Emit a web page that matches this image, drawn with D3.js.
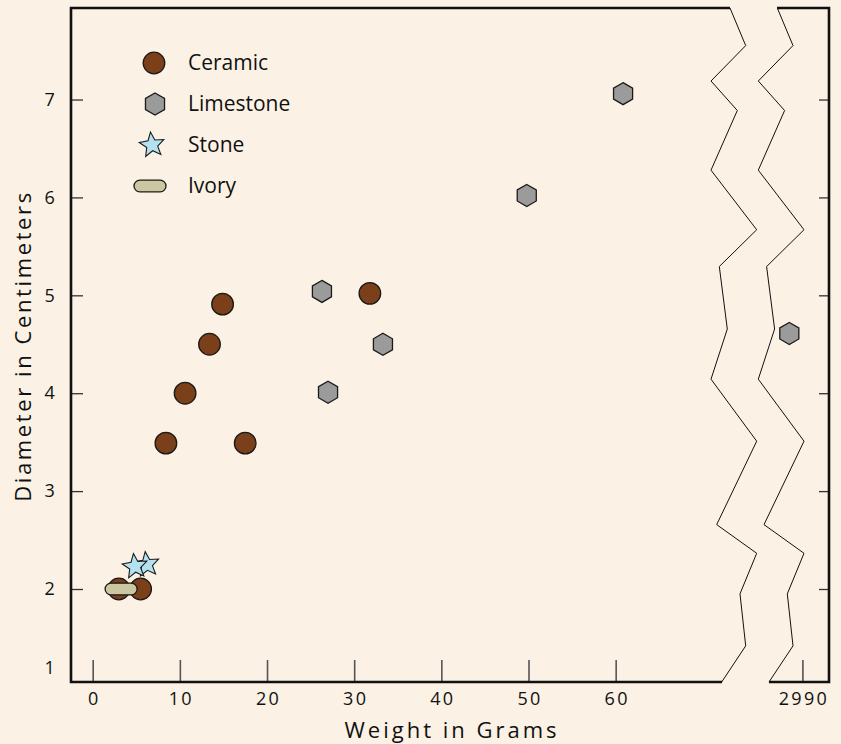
<!DOCTYPE html>
<html>
<head>
<meta charset="utf-8">
<script src="https://cdn.jsdelivr.net/npm/d3@7"></script>
<style>
  html, body { margin: 0; padding: 0; background: #FBF1E4; }
  svg { display: block; }
  text { font-family: "Open Sans", "Noto Sans", sans-serif; fill: #111; }
</style>
</head>
<body>
<svg id="chart" width="841" height="744"></svg>
<script>
// ---- data ----
const ceramicX   = [3, 5.5, 8.4, 10.6, 13.4, 14.9, 17.5, 31.8];
const ceramicY   = [2.0, 2.0, 3.49, 4.0, 4.5, 4.91, 3.49, 5.02];
const limestoneX = [26.3, 27.0, 33.3, 49.8, 60.85, 2988.5];
const limestoneY = [5.04, 4.01, 4.5, 6.02, 7.06, 4.61];
const stoneX     = [6.2, 4.85];
const stoneY     = [2.25, 2.23];
const ivoryX     = [3.26];
const ivoryY     = [2.0];
const xTicks       = [0, 10, 20, 30, 40, 50, 60];
const xTicksBroken = [2990];
const yTicks       = [2, 3, 4, 5, 6, 7];
const yExtraLabel  = ["1"];
const legendNames  = ["Ceramic", "Limestone", "Stone", "Ivory"];

// ---- layout ----
const L = 71, R = 829, T = 8, B = 682;
const svg = d3.select("#chart");
const x1 = d3.scaleLinear().domain([-2.49, 72.2]).range([L, 722]);
const x2 = d3.scaleLinear().domain([2986.17, 2993.05]).range([769, R]);
const xp = v => (v > 1000 ? x2(v) : x1(v));
const y = d3.scaleLinear().domain([1.05, 7.935]).range([B, T]);

const colors = { ceramic: "#7B3F1A", limestone: "#9B9B9B", stone: "#B4E1EF", ivory: "#CBC7A1" };
const strokeC = "#1a1a1a";
const fmt = d3.format("d");

// ---- axes (inward ticks) ----
const gx1 = svg.append("g").attr("transform", `translate(0,${B})`)
  .call(d3.axisBottom(x1).tickValues(xTicks).tickFormat(fmt).tickSize(-22).tickPadding(10));
const gx2 = svg.append("g").attr("transform", `translate(0,${B})`)
  .call(d3.axisBottom(x2).tickValues(xTicksBroken).tickFormat(fmt).tickSize(-22).tickPadding(10));
const gyL = svg.append("g").attr("transform", `translate(${L},0)`)
  .call(d3.axisLeft(y).tickValues(yTicks).tickFormat(fmt).tickSize(-12).tickPadding(14));
const gyR = svg.append("g").attr("transform", `translate(${R},0)`)
  .call(d3.axisRight(y).tickValues(yTicks).tickSize(-10).tickFormat(""));
[gx1, gx2, gyL, gyR].forEach(g => {
  g.select(".domain").remove();
  g.selectAll(".tick line").attr("stroke", "#333").attr("stroke-width", 1.3);
  g.selectAll(".tick text").attr("font-family", "Open Sans, sans-serif")
    .attr("font-size", 18).attr("letter-spacing", 2.3).attr("fill", "#111");
});
gx1.selectAll(".tick line").attr("stroke", "#555").attr("stroke-width", 1.6);
gx2.selectAll(".tick line").attr("stroke", "#555").attr("stroke-width", 1.6);
gx1.selectAll(".tick text").attr("dx", 1);
gx2.selectAll(".tick text").attr("dx", 1);

svg.append("text").attr("x", L - 14).attr("y", y(1.2)).attr("dy", "0.35em")
  .attr("text-anchor", "end").attr("font-size", 18).attr("letter-spacing", 2.3)
  .text(yExtraLabel[0]);

// ---- frame with break ----
const frame = svg.append("g").attr("fill", "none").attr("stroke", "#111").attr("stroke-width", 2.6);
frame.append("path").attr("d", `M730,${T} L${L},${T} L${L},${B} L722,${B}`);
frame.append("path").attr("d", `M777,${T} L${R},${T} L${R},${B} L769,${B}`);

// zigzag break marks: [dx offset px, fraction of plot height]
const breakShape = [[19,0],[34.7,0.0558],[0,0.1083],[26.3,0.1521],[0,0.2406],[45.7,0.3290],
  [8.3,0.3836],[16.3,0.4763],[0,0.5507],[45.7,0.6427],[5.7,0.7665],[45.7,0.8090],
  [29,0.8692],[34.7,0.9464],[10.7,1]];
const zz = d3.line().x(d => d[0]).y(d => d[1]);
[711, 758.3].forEach(bx => {
  svg.append("path")
    .attr("d", zz(breakShape.map(p => [bx + p[0], T + p[1] * (B - T)])))
    .attr("fill", "none").attr("stroke", "#111").attr("stroke-width", 1);
});

// ---- shapes ----
function hexPath(r) {
  const pts = d3.range(6).map(i => {
    const a = Math.PI / 3 * i - Math.PI / 2;
    return [r * Math.cos(a), r * Math.sin(a)];
  });
  return "M" + pts.map(p => p.join(",")).join("L") + "Z";
}
function starPath(ro, ri, rot) {
  const pts = d3.range(10).map(i => {
    const r = i % 2 === 0 ? ro : ri;
    const a = Math.PI / 5 * i - Math.PI / 2 + rot;
    return [r * Math.cos(a), r * Math.sin(a)];
  });
  return "M" + pts.map(p => p.map(v => v.toFixed(2)).join(",")).join("L") + "Z";
}
const drawCircle = (g, cx, cy) => g.append("circle").attr("cx", cx).attr("cy", cy).attr("r", 10.8)
  .attr("fill", colors.ceramic).attr("stroke", strokeC).attr("stroke-width", 1.3);
const drawHex = (g, cx, cy) => g.append("path").attr("d", hexPath(11)).attr("transform", `translate(${cx},${cy})`)
  .attr("fill", colors.limestone).attr("stroke", strokeC).attr("stroke-width", 1.3);
const drawStar = (g, cx, cy) => g.append("path").attr("d", starPath(13, 5.8, -0.12)).attr("transform", `translate(${cx},${cy})`)
  .attr("fill", colors.stone).attr("stroke", strokeC).attr("stroke-width", 1.1).attr("stroke-linejoin", "miter");
const drawPill = (g, cx, cy) => g.append("rect").attr("x", cx - 16).attr("y", cy - 5.8).attr("width", 32).attr("height", 11.6)
  .attr("rx", 5.8).attr("ry", 5.8)
  .attr("fill", colors.ivory).attr("stroke", strokeC).attr("stroke-width", 1.3);

const marks = svg.append("g");
ceramicX.forEach((v, i) => drawCircle(marks, xp(v), y(ceramicY[i])));
limestoneX.forEach((v, i) => drawHex(marks, xp(v), y(limestoneY[i])));
stoneX.forEach((v, i) => drawStar(marks, xp(v), y(stoneY[i])));
ivoryX.forEach((v, i) => drawPill(marks, xp(v), y(ivoryY[i])));

// ---- legend ----
const lg = svg.append("g");
const legendRows = [63, 104, 145, 186];
const drawers = [drawCircle, drawHex, drawStar, drawPill];
const symX = [154, 155, 152, 150];
legendNames.forEach((name, i) => {
  drawers[i](lg, symX[i], legendRows[i]);
  lg.append("text").attr("x", 188).attr("y", legendRows[i]).attr("dy", "0.35em")
    .attr("font-size", 21).text(name);
});

// ---- titles ----
svg.append("text").attr("x", 452).attr("y", 738).attr("text-anchor", "middle")
  .attr("font-size", 22).attr("letter-spacing", 3).text("Weight in Grams");
svg.append("text").attr("transform", `translate(31,${346}) rotate(-90)`).attr("text-anchor", "middle")
  .attr("font-size", 22).attr("letter-spacing", 2.6).text("Diameter in Centimeters");
</script>
</body>
</html>
